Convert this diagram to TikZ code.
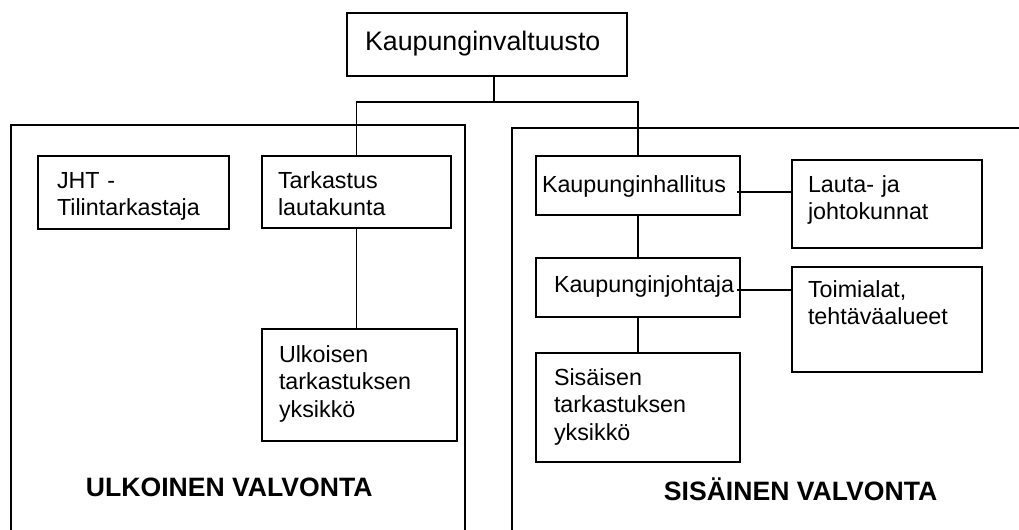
\documentclass[tikz,border=0pt]{standalone}
\usepackage{fontspec}
\setmainfont{Liberation Sans}
\hyphenpenalty=10000
\tikzset{
  unit/.style n args = {4}{
    draw,
    anchor = text,
    align = left,
    inner xsep = #1,
    inner ysep = 0pt,
    text width = #2,
    text height = #3,
    text depth = #4,
    font = \fontsize{11.65pt}{13.8pt}\selectfont,
  },
  area/.style = {
    anchor = base west,
    inner sep = 0pt,
    font = \bfseries\fontsize{13.3pt}{16pt}\selectfont,
  }
}
\begin{document}
\begin{tikzpicture}[x = 0.5pt, y = -0.5pt, line width = 0.9pt]
        \useasboundingbox (0,0) rectangle (1019,530);

        % valvonnan alueet
        \draw (11,530) |- (465,125) -- (465,530);
        \draw (512,530) |- (1019,128);

        \node [unit = {9pt}{122pt}{18.5pt}{13pt},
          font = \fontsize{13.4pt}{16pt}\selectfont] (valtuusto) at (365,50) {
          Kaupunginvaltuusto};

        \node [unit = {9.5pt}{76.5pt}{16pt}{20.5pt}]  (jht)   at (57,188)  {
          JHT -\\Tilintarkastaja};
        \node [unit = {8pt}{78.5pt}{16pt}{20pt}]      (ltk)   at (278,188) {
          Tarkastus\\lautakunta};
        \node [unit = {8.5pt}{80.5pt}{16.5pt}{39.5pt}] (ulk)  at (279,362) {
          Ulkoisen\\tarkastuksen\\yksikkö};

        \node [unit = {3pt}{96pt}{18pt}{11.5pt}]      (khall) at (542,192) {
          Kaupunginhallitus};
        \node [unit = {9pt}{84pt}{17pt}{12.5pt}]      (kjoht) at (554,292) {
          Kaupunginjohtaja};
        \node [unit = {9pt}{84pt}{16pt}{38.5pt}]      (sis)   at (554,385) {
          Sisäisen\\tarkastuksen\\yksikkö};
        \node [unit = {8pt}{79pt}{16pt}{28pt}]        (lauta) at (808,192) {
          Lauta- ja\\johtokunnat};
        \node [unit = {8pt}{79pt}{15pt}{37.5pt}]      (toimi) at (808,297) {
          Toimialat,\\tehtäväalueet};

        \node [area] (ulk title) at (85,496)  {ULKOINEN VALVONTA};
        \node [area] (sis title) at (663,500) {SISÄINEN VALVONTA};

        \coordinate (fork)  at (494,102);
        \coordinate (khend) at ([xshift = -2pt]khall.east);
        \coordinate (kjend) at ([xshift = -2pt]kjoht.east);

        \draw (fork |- valtuusto.south) -- (fork);
        \draw (ltk.north) |- (fork) -| (khall.north);
        \draw (ltk.south) -- (ltk.south |- ulk.north);
        \draw (khall.south) -- (khall.south |- kjoht.north);
        \draw (kjoht.south) -- (kjoht.south |- sis.north);
        \draw (khend |- khall.text) -- (lauta.west |- khall.text);
        \draw ([yshift = 1pt]kjend |- kjoht.text) -- ([yshift = 1pt]toimi.west |- kjoht.text);
      \end{tikzpicture}
\end{document}
